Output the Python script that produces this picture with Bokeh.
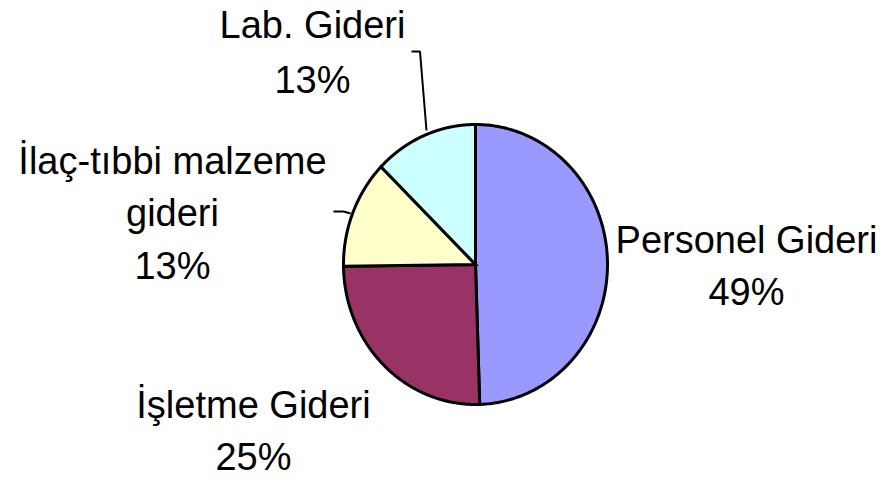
import numpy as np
from bokeh.plotting import figure
from bokeh.models import Range1d
from bokeh.core.properties import value
from bokeh.embed import file_html
from bokeh.resources import INLINE

# ---- data ----
categories = ["Personel Gideri", "İşletme Gideri", "İlaç-tıbbi malzeme\ngideri", "Lab. Gideri"]
values = [49.49, 25.3, 12.51, 12.7]
colors = ["#9999FF", "#993366", "#FFFFCC", "#CCFFFF"]

# ---- layout (image pixel coordinates) ----
W, H = 885, 480
cx, cy, rx, ry = 475, 264, 132, 140
label_x = [746, 253, 172, 312]
label_y0 = [252, 417, 173, 37]      # baseline of first line
line_gap = [52, 52, 52.5, 55]
TEXT_SHIFT = -13                     # compensate svg baseline placement
leaders = [None, None,
           ([350, 343, 333], [213, 211, 211]),
           ([426, 419.5, 411], [130, 51, 51])]
FONT = "Liberation Sans"
FS = "38px"

p = figure(width=W, height=H, output_backend="svg", toolbar_location=None,
           x_range=Range1d(0, W), y_range=Range1d(H, 0),
           min_border=0, min_border_left=0, min_border_right=0,
           min_border_top=0, min_border_bottom=0)
p.axis.visible = False
p.grid.visible = False
p.outline_line_color = None
p.background_fill_color = "white"

total = sum(values)
start = 90.0
xs, ys = [], []
for v in values:
    sweep = v / total * 360.0
    ang = np.radians(np.linspace(start, start - sweep, 200))
    px = [cx] + list(cx + rx * np.cos(ang)) + [cx]
    py = [cy] + list(cy - ry * np.sin(ang)) + [cy]
    xs.append(px)
    ys.append(py)
    start -= sweep

p.patches(xs, ys, fill_color=colors, line_color="black", line_width=3,
          line_join="miter")

for i, (cat, v) in enumerate(zip(categories, values)):
    pct = f"{round(v / total * 100):d}%"
    lines = cat.split("\n") + [pct]
    for j, t in enumerate(lines):
        p.text(x=[label_x[i]], y=[label_y0[i] + j * line_gap[i] + TEXT_SHIFT], text=[t],
               text_font=value(FONT), text_font_size=FS, text_color="black",
               text_align="center", text_baseline="alphabetic")
    if leaders[i] is not None:
        p.line(leaders[i][0], leaders[i][1], line_color="black", line_width=2)

open("out.html", "w").write(file_html(p, INLINE))
